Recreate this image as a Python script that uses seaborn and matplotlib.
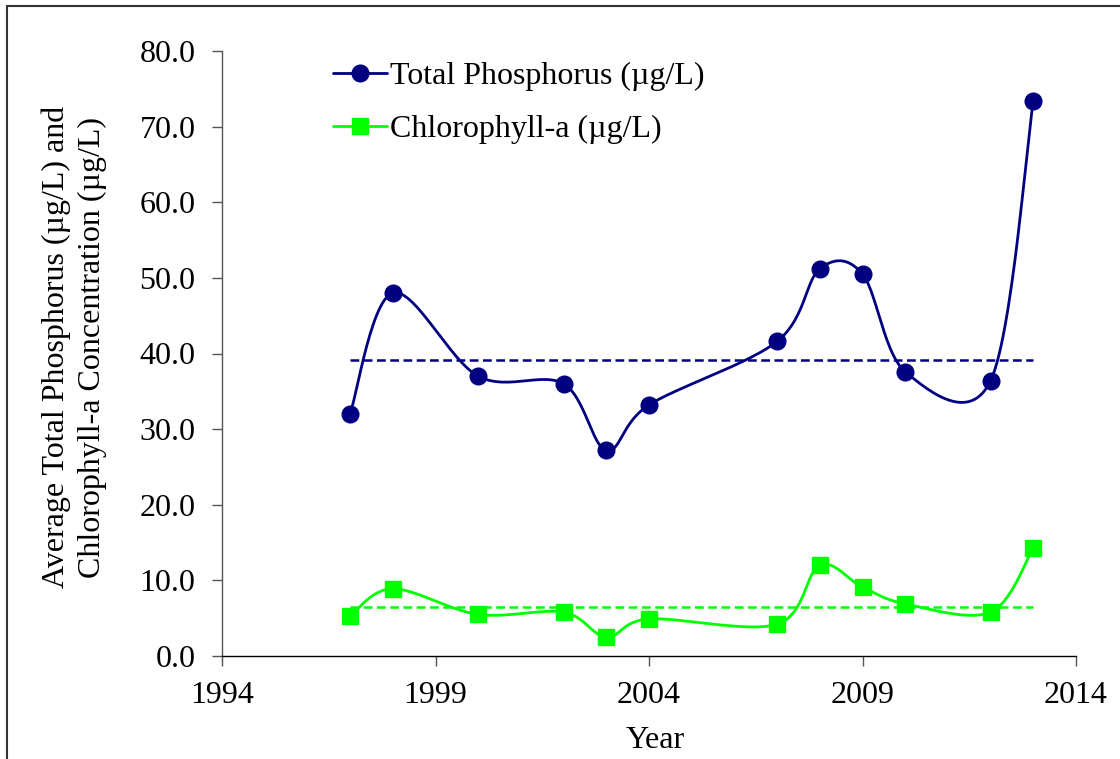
import numpy as np
import pandas as pd
import seaborn as sns
import matplotlib.pyplot as plt
from matplotlib.lines import Line2D
from matplotlib.patches import Rectangle

years = [1997, 1998, 2000, 2002, 2003, 2004, 2007, 2008, 2009, 2010, 2012, 2013]
tp = [32.0, 48.0, 37.0, 36.0, 27.2, 33.2, 41.6, 51.2, 50.5, 37.6, 36.4, 73.4]
chla = [5.3, 8.9, 5.5, 5.8, 2.5, 4.9, 4.2, 12.0, 9.1, 6.9, 5.8, 14.3]
tp_avg = 39.2
chla_avg = 6.5

TP_COLOR = '#000080'
CHL_COLOR = '#00FF00'
FS = 23

sns.set_style('white')
plt.rcParams['font.family'] = ['Liberation Serif', 'DejaVu Serif']
plt.rcParams['text.color'] = 'black'
plt.rcParams['axes.labelcolor'] = 'black'


def smooth(x, y, sx=42.7, sy=7.5625, n=30):
    # excel-like smoothed line: catmull-rom in screen-ish units
    p = np.column_stack([np.asarray(x, float) * sx, np.asarray(y, float) * sy])
    p = np.vstack([p[0], p, p[-1]])
    out = []
    t = np.linspace(0, 1, n)[:, None]
    for i in range(1, len(p) - 2):
        p0, p1, p2, p3 = p[i - 1], p[i], p[i + 1], p[i + 2]
        c1 = p1 + (p2 - p0) / 6
        c2 = p2 - (p3 - p1) / 6
        seg = ((1 - t) ** 3) * p1 + 3 * ((1 - t) ** 2) * t * c1 + 3 * (1 - t) * t ** 2 * c2 + t ** 3 * p2
        out.append(seg if i == 1 else seg[1:])
    out = np.vstack(out)
    return out[:, 0] / sx, out[:, 1] / sy


fig = plt.figure(figsize=(11.2, 7.59), dpi=100)
ax = fig.add_axes([222 / 1120, 1 - 656 / 759, (1076 - 222) / 1120, (656 - 51) / 759])

for vals, col, mk, ms, avg in [(tp, TP_COLOR, 'o', 12, tp_avg), (chla, CHL_COLOR, 's', 11, chla_avg)]:
    sx, sy = smooth(years, vals)
    curve = pd.DataFrame({'x': sx, 'y': sy})
    sns.lineplot(data=curve, x='x', y='y', sort=False, color=col, lw=2, ax=ax)
    ax.plot([years[0], years[-1]], [avg, avg], color=col, lw=1.8, dashes=(3.5, 1.8))
    ax.plot(years, vals, ls='none', marker=mk, ms=ms, color=col, mec=col)

ax.set_xlim(1994, 2014)
ax.set_ylim(0, 80)
ax.set_xticks([1994, 1999, 2004, 2009, 2014])
ax.set_yticks(np.arange(0, 81, 10))
ax.set_yticklabels([f'{v:.1f}' for v in np.arange(0, 81, 10)])
ax.set_xlabel('')
ax.set_ylabel('')
ax.tick_params(axis='both', direction='out', length=7, width=1, color='#555555',
               labelsize=FS, labelcolor='black', left=True, bottom=True)
ax.tick_params(axis='y', pad=12)
ax.tick_params(axis='x', pad=11)
sns.despine(ax=ax)
ax.spines['bottom'].set_color('black')
ax.spines['left'].set_color('#555555')
for s in ['left', 'bottom']:
    ax.spines[s].set_linewidth(1)

fig.text(74 / 1120, 1 - 347 / 759,
         'Average Total Phosphorus (\u00b5g/L) and\nChlorophyll-a Concentration (\u00b5g/L)',
         rotation=90, ha='center', va='center', fontsize=FS, linespacing=1.3,
         multialignment='center')
fig.text(655 / 1120, 1 - 741 / 759, 'Year', ha='center', va='center', fontsize=FS)

handles = [Line2D([], [], color=TP_COLOR, lw=2, marker='o', ms=12),
           Line2D([], [], color=CHL_COLOR, lw=2, marker='s', ms=11)]
ax.legend(handles, ['Total Phosphorus (\u00b5g/L)', 'Chlorophyll-a (\u00b5g/L)'],
          loc='upper left', bbox_to_anchor=(0.115, 1.003), frameon=False, fontsize=FS,
          handlelength=1.7, handletextpad=0.1, labelspacing=0.72, borderaxespad=0)

fig.patches.append(Rectangle((7 / 1120, -0.1), 1.2, 1 - 6 / 759 + 0.1, transform=fig.transFigure,
                             fill=False, edgecolor='#333333', lw=1.5))

fig.savefig('out.png', dpi=100)
